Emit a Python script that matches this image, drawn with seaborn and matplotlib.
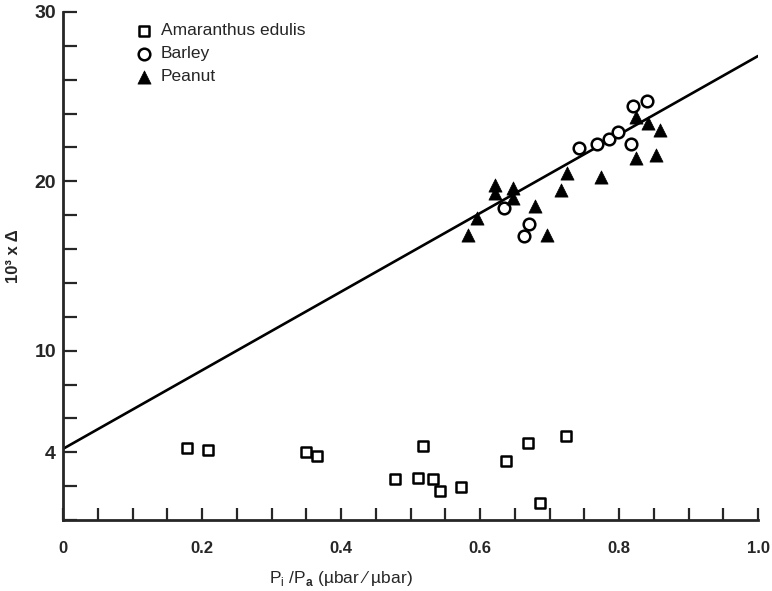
"""
Carbon isotope discrimination vs Pi/Pa - scatter + fitted line
"""
import numpy as np
import pandas as pd
import matplotlib
matplotlib.use('Agg')
import matplotlib.pyplot as plt
import seaborn as sns

# ============================================================
# DATA
# ============================================================
amaranthus_x = [0.179, 0.209, 0.350, 0.365, 0.518, 0.478, 0.511, 0.532, 0.542,
                0.572, 0.638, 0.669, 0.724, 0.687]
amaranthus_y = [4.27, 4.13, 4.03, 3.80, 4.37, 2.42, 2.50, 2.40, 1.71,
                1.97, 3.48, 4.53, 4.96, 1.02]

barley_x = [0.635, 0.670, 0.663, 0.743, 0.769, 0.786, 0.798, 0.820, 0.840, 0.817]
barley_y = [18.45, 17.48, 16.77, 21.99, 22.19, 22.50, 22.94, 24.45, 24.75, 22.19]

peanut_x = [0.583, 0.596, 0.621, 0.621, 0.647, 0.647, 0.679, 0.697, 0.716, 0.725,
            0.774, 0.824, 0.824, 0.842, 0.859, 0.853]
peanut_y = [16.83, 17.82, 19.30, 19.80, 19.00, 19.59, 18.55, 16.83, 19.49, 20.51,
            20.28, 23.82, 21.36, 23.43, 23.04, 21.56]

fit_intercept = 4.2
fit_slope = 23.2
fit_range = [0.0, 1.0]

x_major = [0, 0.2, 0.4, 0.6, 0.8, 1.0]
x_major_labels = ['0', '0.2', '0.4', '0.6', '0.8', '1.0']
y_labeled = [4, 10, 20, 30]

# ============================================================
# PLOT
# ============================================================
sns.set_style('ticks')
plt.rcParams['font.family'] = ['Liberation Sans', 'DejaVu Sans']
plt.rcParams['mathtext.fontset'] = 'custom'
plt.rcParams['mathtext.rm'] = 'Liberation Sans'
plt.rcParams['mathtext.bf'] = 'Liberation Sans:bold'

fig = plt.figure(figsize=(7.72, 5.91), dpi=100)
ax = fig.add_axes([63 / 772, 71 / 591, 695 / 772, 508 / 591])

df_am = pd.DataFrame({'x': amaranthus_x, 'y': amaranthus_y})
df_ba = pd.DataFrame({'x': barley_x, 'y': barley_y})
df_pe = pd.DataFrame({'x': peanut_x, 'y': peanut_y})

sns.scatterplot(data=df_am, x='x', y='y', marker='s', s=55, facecolor='white',
                edgecolor='black', linewidth=1.8, label='Amaranthus edulis', ax=ax, zorder=3)
sns.scatterplot(data=df_ba, x='x', y='y', marker='o', s=70, facecolor='white',
                edgecolor='black', linewidth=1.8, label='Barley', ax=ax, zorder=3)
sns.scatterplot(data=df_pe, x='x', y='y', marker='^', s=90, color='black',
                edgecolor='black', linewidth=0.5, label='Peanut', ax=ax, zorder=3)

line_x = np.array(fit_range)
df_fit = pd.DataFrame({'x': line_x, 'y': fit_intercept + fit_slope * line_x})
sns.lineplot(data=df_fit, x='x', y='y', color='black', linewidth=1.9, ax=ax, zorder=2)

ax.set_xlim(0, 1.0)
ax.set_ylim(0, 30)

# ticks: x every 0.05, y every 2, only some labelled
x_ticks = np.arange(0, 1.0001, 0.05)
ax.set_xticks(x_ticks)
ax.set_xticklabels([x_major_labels[x_major.index(round(t, 2))] if round(t, 2) in x_major else ''
                    for t in x_ticks])
ax.set_yticks(range(0, 31, 2))
ax.set_yticklabels([str(t) if t in y_labeled else '' for t in range(0, 31, 2)])

ax.tick_params(axis='x', direction='in', length=8.5, width=1.6, labelsize=12, pad=15)
ax.tick_params(axis='y', direction='in', length=10, width=1.6, labelsize=14, pad=5)
for lbl in ax.get_yticklabels():
    lbl.set_fontweight('bold')
for lbl in ax.get_xticklabels():
    lbl.set_fontweight('bold')

sns.despine(ax=ax)
for sp in ['left', 'bottom']:
    ax.spines[sp].set_linewidth(2.0)

ax.set_xlabel(r'P$_\mathregular{i}$ /P$_\mathbf{a}$ (µbar ⁄ µbar)', fontsize=12.5)
ax.xaxis.set_label_coords(0.40, -0.116)
ax.xaxis.label.set_va('center')
ax.set_ylabel('10³ x Δ', fontsize=12, fontweight='bold')
ax.yaxis.set_label_coords(-0.071, 0.52)
ax.yaxis.label.set_va('center')

leg = ax.legend(loc='upper left', bbox_to_anchor=(0.106, 0.978), frameon=False,
                fontsize=12.5, handlelength=0.9, handletextpad=0.5, labelspacing=0.45,
                borderpad=0, borderaxespad=0)

plt.savefig('out.png', dpi=100)
plt.close()
